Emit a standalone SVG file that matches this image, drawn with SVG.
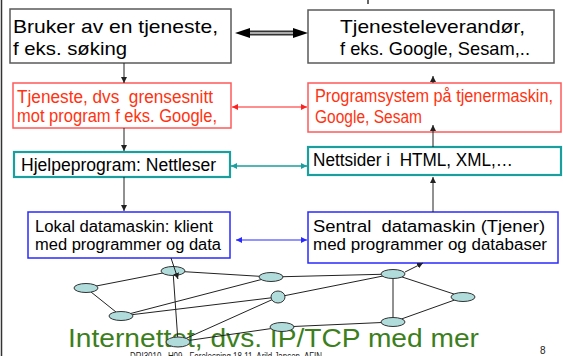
<svg xmlns="http://www.w3.org/2000/svg" width="563" height="356" viewBox="0 0 563 356">
  <style>
    text { white-space: pre; }
    .t { font-family: "Liberation Sans", Arial, sans-serif; font-size: 19px; fill: #000; }
    .s { font-family: "Liberation Sans", Arial, sans-serif; font-size: 17.5px; }
    .m { font-family: "Liberation Sans", Arial, sans-serif; font-size: 16px; fill: #000; }
    .red { fill: #ff3311; }
    .blk { fill: #000; }
    .box-gray { fill: #fff; stroke: #5a5a5a; stroke-width: 1.5; }
    .box-red { fill: #fff; stroke: #ff5a5a; stroke-width: 1.5; }
    .box-teal { fill: #fff; stroke: #1a9e9e; stroke-width: 2.2; }
    .box-blue { fill: #fff; stroke: #2a2aff; stroke-width: 1.5; }
    .edge { stroke: #222; stroke-width: 1; fill: none; }
    .node { fill: #b0dcdc; stroke: #333; stroke-width: 1; }
    .big { font-family: "Liberation Sans", Arial, sans-serif; font-size: 25px; fill: #3c7f1c; }
    .foot { font-family: "Liberation Sans", Arial, sans-serif; font-size: 10px; fill: #222; }
  </style>
  <defs>
    <marker id="ah" viewBox="0 0 10 10" refX="10" refY="5" markerWidth="6" markerHeight="6" markerUnits="userSpaceOnUse" orient="auto-start-reverse">
      <path d="M0,0 L10,5 L0,10 Z" fill="#222"/>
    </marker>
    <marker id="ahRed" viewBox="0 0 10 10" refX="10" refY="5" markerWidth="6" markerHeight="6" markerUnits="userSpaceOnUse" orient="auto-start-reverse">
      <path d="M0,0 L10,5 L0,10 Z" fill="#ff2020"/>
    </marker>
    <marker id="ahTeal" viewBox="0 0 10 10" refX="10" refY="5" markerWidth="6" markerHeight="6" markerUnits="userSpaceOnUse" orient="auto-start-reverse">
      <path d="M0,0 L10,5 L0,10 Z" fill="#1a9e9e"/>
    </marker>
    <marker id="ahBlue" viewBox="0 0 10 10" refX="10" refY="5" markerWidth="6" markerHeight="6" markerUnits="userSpaceOnUse" orient="auto-start-reverse">
      <path d="M0,0 L10,5 L0,10 Z" fill="#2a2aff"/>
    </marker>
  </defs>

  <rect x="0" y="0" width="563" height="356" fill="#fff"/>
  <!-- page edge -->
  <line x1="1.5" y1="0" x2="1.5" y2="356" stroke="#333" stroke-width="1.5"/>

  <!-- caption under the network -->
  <text class="big" x="68" y="347" textLength="411" lengthAdjust="spacingAndGlyphs">Internettet, dvs. IP/TCP med mer</text>

  <!-- nodes -->
  <g id="bruker">
    <rect class="box-gray" x="10" y="9" width="221" height="54"/>
    <text class="t" x="13" y="33" textLength="205" lengthAdjust="spacingAndGlyphs">Bruker av en tjeneste,</text>
    <text class="t" x="13" y="55" textLength="114" lengthAdjust="spacingAndGlyphs">f eks. søking</text>
  </g>
  <g id="leverandor">
    <rect class="box-gray" x="308" y="10" width="246" height="53"/>
    <text class="t" x="340" y="33" textLength="185" lengthAdjust="spacingAndGlyphs">Tjenesteleverandør,</text>
    <text class="t" x="340" y="55" textLength="190" lengthAdjust="spacingAndGlyphs">f eks. Google, Sesam,..</text>
  </g>
  <g id="tjeneste">
    <rect class="box-red" x="13" y="83" width="218" height="45"/>
    <text class="s red" x="17" y="103" textLength="196" lengthAdjust="spacingAndGlyphs">Tjeneste, dvs  grensesnitt</text>
    <text class="s red" x="17" y="122" textLength="200" lengthAdjust="spacingAndGlyphs">mot program f eks. Google,</text>
  </g>
  <g id="programsystem">
    <rect class="box-red" x="308" y="83" width="253" height="49"/>
    <text class="s red" x="315" y="102" textLength="238" lengthAdjust="spacingAndGlyphs">Programsystem på tjenermaskin,</text>
    <text class="s red" x="315" y="123" textLength="107" lengthAdjust="spacingAndGlyphs">Google, Sesam</text>
  </g>
  <g id="nettleser">
    <rect class="box-teal" x="14" y="152" width="216" height="25"/>
    <text class="s blk" x="21" y="171" textLength="195" lengthAdjust="spacingAndGlyphs">Hjelpeprogram: Nettleser</text>
  </g>
  <g id="nettsider">
    <rect class="box-teal" x="308" y="147" width="253" height="28"/>
    <text class="s blk" x="313" y="166" textLength="200" lengthAdjust="spacingAndGlyphs">Nettsider i  HTML, XML,…</text>
  </g>
  <g id="klient">
    <rect class="box-blue" x="28" y="212" width="202" height="46"/>
    <text class="m" x="35" y="232" textLength="178" lengthAdjust="spacingAndGlyphs">Lokal datamaskin: klient</text>
    <text class="m" x="35" y="250" textLength="186" lengthAdjust="spacingAndGlyphs">med programmer og data</text>
  </g>
  <g id="tjener">
    <rect class="box-blue" x="308" y="212" width="250" height="51"/>
    <text class="m" x="313" y="232" textLength="232" lengthAdjust="spacingAndGlyphs">Sentral  datamaskin (Tjener)</text>
    <text class="m" x="313" y="250" textLength="234" lengthAdjust="spacingAndGlyphs">med programmer og databaser</text>
  </g>

  <!-- connectors -->
  <g id="connectors">
    <!-- thick double arrow between user and provider -->
    <line x1="249" y1="33" x2="295" y2="33" stroke="#333" stroke-width="5"/>
    <line x1="249" y1="33" x2="295" y2="33" stroke="#aaa" stroke-width="2"/>
    <path d="M235,33 L250,28 L250,38 Z" fill="#000"/>
    <path d="M308,33 L293,28 L293,38 Z" fill="#000"/>

    <!-- left column, downward -->
    <line class="edge" x1="124" y1="63" x2="124" y2="83" marker-end="url(#ah)"/>
    <line class="edge" x1="124" y1="128" x2="124" y2="151" marker-end="url(#ah)"/>
    <line class="edge" x1="124" y1="177" x2="124" y2="211" marker-end="url(#ah)"/>

    <!-- right column, upward -->
    <line x1="368" y1="0" x2="368" y2="4" stroke="#333" stroke-width="1.5"/>
    <line class="edge" stroke="#444" x1="433" y1="83" x2="433" y2="76" marker-end="url(#ah)"/>
    <line class="edge" stroke="#444" x1="433" y1="147" x2="433" y2="125" marker-end="url(#ah)"/>
    <line class="edge" stroke="#444" x1="433" y1="212" x2="433" y2="177" marker-end="url(#ah)"/>

    <!-- horizontal double arrows -->
    <line x1="232" y1="107" x2="307" y2="107" stroke="#ff2020" stroke-width="1.2" marker-start="url(#ahRed)" marker-end="url(#ahRed)"/>
    <line x1="231" y1="166" x2="307" y2="166" stroke="#1a9e9e" stroke-width="1.5" marker-start="url(#ahTeal)" marker-end="url(#ahTeal)"/>
    <line x1="236" y1="240" x2="307" y2="240" stroke="#2a2aff" stroke-width="1.2" marker-start="url(#ahBlue)" marker-end="url(#ahBlue)"/>

    <!-- network links -->
    <line class="edge" x1="86" y1="288" x2="173" y2="271"/>
    <line class="edge" x1="173" y1="271" x2="271" y2="277"/>
    <line class="edge" x1="271" y1="277" x2="393" y2="274"/>
    <line class="edge" x1="86" y1="288" x2="121" y2="316"/>
    <line class="edge" x1="121" y1="316" x2="271" y2="277"/>
    <line class="edge" x1="121" y1="316" x2="278" y2="297"/>
    <line class="edge" x1="278" y1="297" x2="393" y2="274"/>
    <line class="edge" x1="278" y1="297" x2="178" y2="342"/>
    <line class="edge" x1="178" y1="342" x2="282" y2="327"/>
    <line class="edge" x1="282" y1="327" x2="393" y2="322"/>
    <line class="edge" x1="393" y1="322" x2="463" y2="297"/>
    <line class="edge" x1="393" y1="274" x2="463" y2="297"/>
    <line class="edge" x1="393" y1="274" x2="393" y2="322"/>
    <line class="edge" x1="173" y1="271" x2="178" y2="342"/>
  </g>

  <!-- network nodes -->
  <g id="network">
    <ellipse class="node" cx="173" cy="271" rx="12" ry="4.5"/>
    <ellipse class="node" cx="271" cy="277" rx="12" ry="4.5"/>
    <ellipse class="node" cx="393" cy="274" rx="12" ry="4.5"/>
    <ellipse class="node" cx="86" cy="288" rx="12" ry="4.5"/>
    <ellipse class="node" cx="278" cy="297" rx="7" ry="6"/>
    <ellipse class="node" cx="463" cy="297" rx="12" ry="4.5"/>
    <ellipse class="node" cx="121" cy="316" rx="12" ry="4.5"/>
    <ellipse class="node" cx="282" cy="327" rx="12" ry="4.5"/>
    <ellipse class="node" cx="393" cy="322" rx="12" ry="4.5"/>
    <ellipse class="node" cx="178" cy="342" rx="12" ry="5"/>
  </g>

  <!-- links from the machines into the network -->
  <g id="net-links">
    <line class="edge" x1="171" y1="258" x2="178" y2="279" marker-end="url(#ah)"/>
    <line class="edge" x1="405" y1="272" x2="423" y2="263" marker-end="url(#ah)"/>
  </g>

  <!-- footer -->
  <text class="foot" x="130" y="360" textLength="192" lengthAdjust="spacingAndGlyphs">DRI3010 , H09 - Forelesning 18.11. Arild Jansen, AFIN</text>
  <text class="foot" x="540" y="354">8</text>
</svg>
